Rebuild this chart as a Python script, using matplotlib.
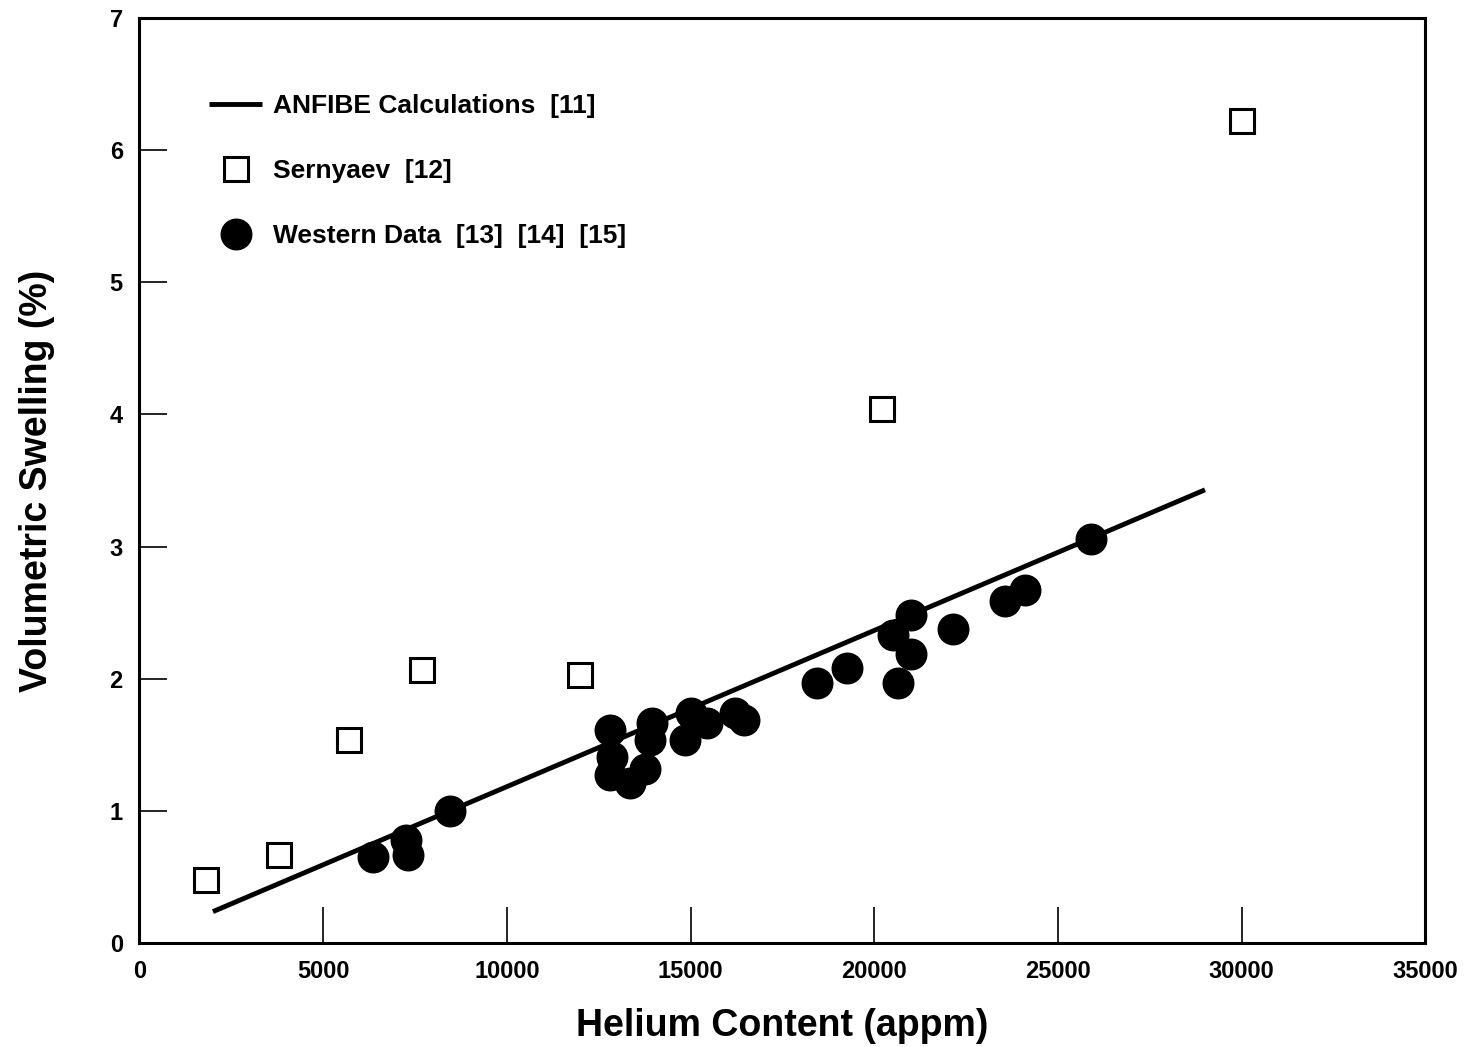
import matplotlib.pyplot as plt

plt.rcParams['font.family'] = ['Liberation Sans', 'DejaVu Sans']
plt.rcParams['font.weight'] = 'bold'

# ANFIBE calculation line (end points)
anfibe_he = [2000, 29000]
anfibe_sw = [0.24, 3.43]

# Sernyaev [12]
sern_he = [1800, 3800, 5700, 7700, 12000, 20200, 30000]
sern_sw = [0.48, 0.67, 1.54, 2.07, 2.03, 4.04, 6.22]

# Western data [13] [14] [15]
west_he = [6350, 7250, 7300, 8450, 12800, 12850, 12800, 13350, 13750, 13900,
           13950, 14850, 15000, 15450, 16200, 16450, 18450, 19250, 20650,
           20500, 21000, 21000, 22150, 23550, 24100, 25900]
west_sw = [0.65, 0.78, 0.67, 1.00, 1.61, 1.41, 1.27, 1.21, 1.32, 1.54,
           1.67, 1.54, 1.74, 1.67, 1.74, 1.69, 1.97, 2.08, 1.97,
           2.33, 2.48, 2.19, 2.38, 2.59, 2.67, 3.06]

narrow = ['Liberation Sans Narrow', 'Liberation Sans', 'DejaVu Sans']

fig = plt.figure(figsize=(14.68, 10.47), dpi=100)
ax = fig.add_axes([0.095, 0.099, 0.876, 0.884])

ax.plot(anfibe_he, anfibe_sw, color='black', lw=3.5, solid_capstyle='butt',
        label='ANFIBE Calculations  [11]')
ax.plot(sern_he, sern_sw, ls='none', marker='s', ms=17, mfc='white',
        mec='black', mew=2.2, label='Sernyaev  [12]')
ax.plot(west_he, west_sw, ls='none', marker='o', ms=22, color='black',
        label='Western Data  [13]  [14]  [15]')

ax.set_xlim(0, 35000)
ax.set_ylim(0, 7)
ax.set_xticks(range(0, 35001, 5000))
ax.set_yticks(range(0, 8))

for s in ax.spines.values():
    s.set_linewidth(2.2)

ax.tick_params(axis='x', direction='in', length=26, width=1.2, pad=12)
ax.tick_params(axis='y', direction='in', length=20, width=1.2, pad=12)
for lab in ax.get_xticklabels() + ax.get_yticklabels():
    lab.set_fontweight('bold')
    lab.set_fontfamily(narrow)
    lab.set_fontsize(17)

ax.set_xlabel('Helium Content (appm)', fontsize=27, fontweight='bold', labelpad=18)
ax.set_ylabel('Volumetric Swelling (%)', fontsize=27, fontweight='bold', labelpad=39)

leg = ax.legend(loc='upper left', bbox_to_anchor=(0.046, 0.929), frameon=False,
                fontsize=19, handlelength=2.0, handletextpad=0.42,
                labelspacing=1.55, borderaxespad=0)
for t in leg.get_texts():
    t.set_fontweight('bold')

fig.savefig('out.png', dpi=100)
